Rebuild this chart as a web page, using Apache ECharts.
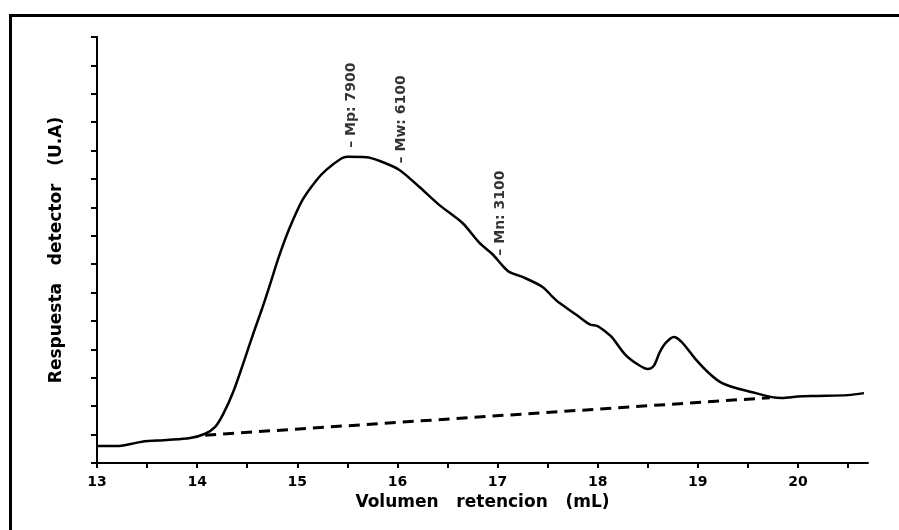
<!DOCTYPE html>
<html>
<head>
<meta charset="utf-8">
<script src="https://cdn.jsdelivr.net/npm/echarts@6/dist/echarts.min.js"></script>
<style>
html,body{margin:0;padding:0;background:#fff;}
#chart{width:899px;height:530px;}
</style>
</head>
<body>
<div id="chart"></div>
<script>
// Retention volume (mL) and detector response (arbitrary units)
var volume = [13.0,13.2,13.35,13.45,13.7,13.93,14.08,14.18,14.26,14.36,14.46,14.56,14.65,14.72,14.82,14.92,15.05,15.19,15.29,15.44,15.5,15.69,15.85,16.02,16.22,16.42,16.65,16.82,16.95,17.05,17.12,17.25,17.45,17.55,17.62,17.79,17.92,18.0,18.08,18.14,18.28,18.41,18.5,18.56,18.62,18.68,18.76,18.84,18.98,19.11,19.23,19.38,19.58,19.74,19.84,20.0,20.18,20.5,20.66];
var response = [0.60,0.60,0.68,0.75,0.81,0.88,1.03,1.27,1.72,2.5,3.5,4.55,5.45,6.2,7.3,8.25,9.25,9.95,10.32,10.72,10.78,10.77,10.6,10.32,9.72,9.08,8.45,7.75,7.35,6.95,6.72,6.55,6.2,5.85,5.63,5.21,4.88,4.82,4.62,4.44,3.8,3.45,3.31,3.42,3.9,4.23,4.44,4.26,3.65,3.17,2.84,2.64,2.46,2.32,2.29,2.34,2.36,2.39,2.46];
// Baseline (dashed)
var baseVolume = [14.08, 19.72];
var baseResponse = [0.98, 2.30];
// Molecular weight annotations
var annLabels = ['\u2013 Mp: 7900', '\u2013 Mw: 6100', '\u2013 Mn: 3100'];
var annVolume = [15.54, 16.04, 17.03];
var annResponse = [11.1, 10.55, 7.3];
// Axis settings
var xMin = 13, xMax = 20.7, xStep = 0.5;
var yMin = 0, yMax = 15, yStep = 1;

var curve = volume.map(function(v,i){return [v, response[i]];});
var base = baseVolume.map(function(v,i){return [v, baseResponse[i]];});
var ann = annVolume.map(function(v,i){return {value:[v, annResponse[i]], name: annLabels[i]};});

var chart = echarts.init(document.getElementById('chart'), null, {renderer:'canvas'});
chart.setOption({
  animation:false,
  backgroundColor:'#fff',
  grid:{left:97, right:31, top:37, bottom:67, containLabel:false},
  xAxis:{
    type:'value', min:xMin, max:xMax, interval:xStep,
    name:'Volumen   retencion   (mL)', nameLocation:'middle', nameGap:31,
    nameTextStyle:{fontFamily:'DejaVu Sans', fontWeight:'bold', fontSize:17, color:'#000'},
    axisLine:{show:true, onZero:false, lineStyle:{color:'#000', width:2}},
    axisTick:{show:true, inside:false, length:5, lineStyle:{color:'#000', width:2}},
    axisLabel:{show:true, margin:12, color:'#000', fontFamily:'DejaVu Sans', fontWeight:'bold', fontSize:14,
      showMaxLabel:false,
      formatter:function(v){return Math.abs(v-Math.round(v))<1e-6 ? String(Math.round(v)) : '';}},
    splitLine:{show:false}
  },
  yAxis:{
    type:'value', min:yMin, max:yMax, interval:yStep,
    name:'Respuesta   detector   (U.A)', nameLocation:'middle', nameGap:32,
    nameTextStyle:{fontFamily:'DejaVu Sans', fontWeight:'bold', fontSize:17, color:'#000'},
    axisLine:{show:true, onZero:false, lineStyle:{color:'#000', width:2}},
    axisTick:{show:true, inside:false, length:6, lineStyle:{color:'#000', width:2}},
    axisLabel:{show:false},
    splitLine:{show:false}
  },
  graphic:[{
    type:'rect', left:8, top:13, silent:true, z:-1,
    shape:{x:0, y:0, width:1000, height:1000},
    style:{fill:'none', stroke:'#000', lineWidth:3}
  }],
  series:[
    {type:'line', data:curve, smooth:0.3, showSymbol:false, symbol:'none',
     lineStyle:{color:'#000', width:2.5}},
    {type:'line', data:base, showSymbol:false, symbol:'none',
     lineStyle:{color:'#000', width:3, type:[11,7]}},
    {type:'scatter', data:ann, symbolSize:1, itemStyle:{color:'rgba(0,0,0,0)'},
     label:{show:true, position:'inside', rotate:90, align:'left', verticalAlign:'middle',
       formatter:function(p){return p.name;},
       color:'#000', fontFamily:'DejaVu Sans', fontWeight:'bold', fontSize:14}}
  ]
});
</script>
</body>
</html>
